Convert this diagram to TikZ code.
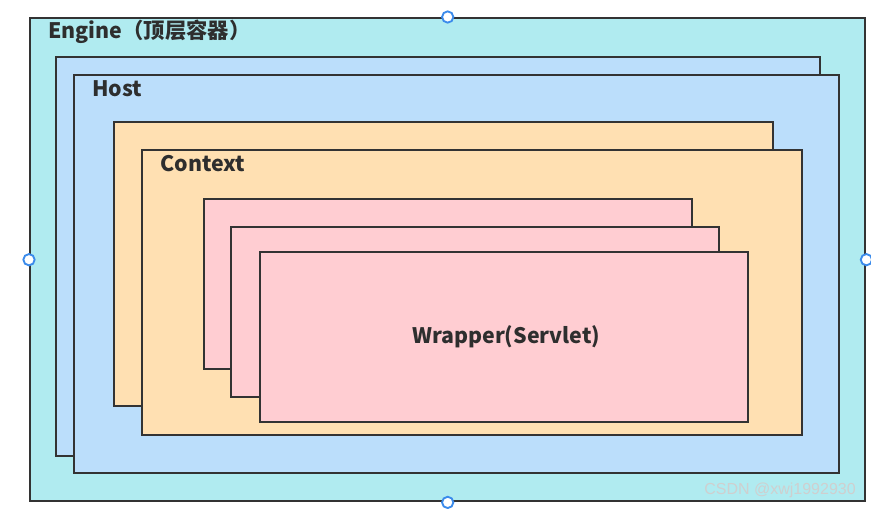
\documentclass[tikz,border=0pt]{standalone}
\usepackage{fontspec}
\setmainfont{Noto Sans CJK SC}
\newfontfamily\markfont{Liberation Sans}
\usetikzlibrary{positioning}

\definecolor{engineFill}{RGB}{176,235,240}
\definecolor{hostFill}{RGB}{187,222,251}
\definecolor{contextFill}{RGB}{255,224,178}
\definecolor{wrapperFill}{RGB}{255,205,210}
\definecolor{edgeGray}{RGB}{51,51,51}
\definecolor{handleBlue}{RGB}{59,139,235}

\tikzset{
  layer/.style n args={3}{draw=edgeGray, line width=1.8pt, fill=#1,
    anchor=north west, inner sep=0pt,
    minimum width=#2*0.75pt, minimum height=#3*0.75pt},
  title/.style={anchor=west, font=\bfseries\fontsize{16}{18}\selectfont, text=edgeGray!90!black, inner sep=0pt},
  handle/.style={circle, draw=handleBlue, fill=white, line width=1.4pt,
    minimum size=8.5pt, inner sep=0pt}
}

\begin{document}
\begin{tikzpicture}[x=0.75pt, y=-0.75pt]
  \useasboundingbox (0,0) rectangle (871,508);

  % engine
  \node[layer={engineFill}{835}{483}] (engine) at (29,17) {};
  \node[title] (engineLabel) at (48,32) {Engine（顶层容器）};

  % host
  \node[layer={hostFill}{764}{399}] (hostBack) at (55,56) {};
  \node[layer={hostFill}{765}{398}] (host) at (73,74) {};
  \node[title] (hostLabel) at (92,89) {Host};

  % context
  \node[layer={contextFill}{659}{284}] (contextBack) at (113,121) {};
  \node[layer={contextFill}{660}{285}] (context) at (141,149) {};
  \node[title] (contextLabel) at (160,164) {Context};

  % wrappers
  \foreach \i/\x/\y in {1/203/198, 2/230/226, 3/259/251} {
    \node[layer={wrapperFill}{488}{170}] (wrapper\i) at (\x,\y) {};
  }
  \node[title, anchor=center] (wrapperLabel) at ([xshift=1.5pt]wrapper3.center) {Wrapper(Servlet)};

  % selection handles
  \foreach \side in {north,south,west,east} {
    \node[handle] (handle\side) at (engine.\side) {};
  }

  \node[anchor=east, inner sep=0pt, text=white!62!gray, font=\markfont\fontsize{12}{14}\selectfont]
    (mark) at (856,490) {CSDN @xwj1992930};
\end{tikzpicture}
\end{document}
